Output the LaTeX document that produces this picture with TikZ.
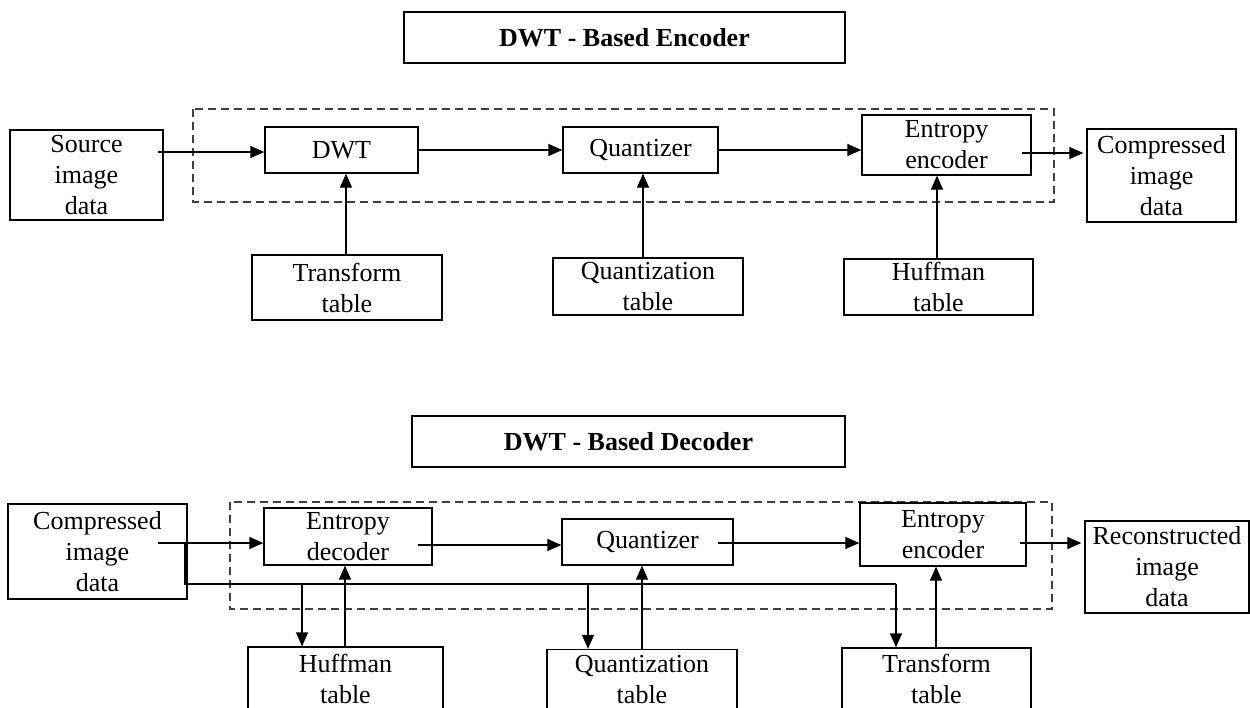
\documentclass[tikz,border=0pt]{standalone}
\usepackage{fontspec}
\setmainfont{Liberation Serif}
\usetikzlibrary{arrows.meta,calc}
\begin{document}
\begin{tikzpicture}[x=1pt,y=-1pt,
  box/.style={draw,line width=1.3pt,inner sep=0pt,align=center,
    font=\fontsize{26}{31}\selectfont},
  ttl/.style={box,font=\fontsize{26}{31}\selectfont\bfseries},
  arr/.style={line width=1.3pt,-{Triangle[length=14pt,width=12pt]}},
  ln/.style={line width=1.3pt},
  grp/.style={draw=black!75,line width=1.3pt,dash pattern=on 8pt off 5pt}]
\clip (0,0) rectangle (1250,707);
\fill[white] (0,0) rectangle (1250,707);
% ---------------- Encoder ----------------
\node[ttl,minimum width=441,minimum height=51] (tenc) at (624.5,37.5) {DWT - Based Encoder};
\draw[grp] (193,109) rectangle (1054,202);
\node[box,minimum width=153,minimum height=90] (src) at (86.5,175) {Source\\image\\data};
\node[box,minimum width=153,minimum height=46] (dwt) at (341.5,150) {DWT};
\node[box,minimum width=155,minimum height=46] (quant) at (640.5,150) {Quantizer};
\node[box,minimum width=169,minimum height=60] (ent) at (946.5,145) {Entropy\\encoder};
\node[box,minimum width=149,minimum height=93] (cmp) at (1161.5,175.5) {Compressed\\image\\data};
\node[box,minimum width=190,minimum height=65] (tt) at (347,287.5) {Transform\\table};
\node[box,minimum width=190,minimum height=57] (qt) at (648,286.5) {Quantization\\table};
\node[box,minimum width=189,minimum height=56] (ht) at (938.5,287) {Huffman\\table};
\coordinate (s0) at ($(src.east |- dwt.west)+(-6,2)$);
\draw[arr] (s0) -- (s0 -| dwt.west);
\draw[arr] (dwt.east) -- (quant.west);
\draw[arr] (quant.east) -- (quant.east -| ent.west);
\coordinate (e0) at ($(ent.east)+(-10,8)$);
\draw[arr] (e0) -- ($(e0 -| cmp.west)+(-3,0)$);
\coordinate (t0) at ($(tt.north)+(-1,0)$);
\draw[arr] (t0) -- (t0 |- dwt.south);
\coordinate (q0) at ($(qt.north)+(-5,0)$);
\draw[arr] (q0) -- (q0 |- quant.south);
\coordinate (h0) at ($(ht.north)+(-1.5,0)$);
\draw[arr] (h0) -- (h0 |- ent.south);
% ---------------- Decoder ----------------
\node[ttl,minimum width=433,minimum height=51] (tdec) at (628.5,441.5) {DWT - Based Decoder};
\draw[grp] (230,502) rectangle (1052,609);
\node[box,minimum width=179,minimum height=95] (cmp2) at (97.5,551.5) {Compressed\\image\\data};
\node[box,minimum width=168,minimum height=57] (edec) at (348,536.5) {Entropy\\decoder};
\node[box,minimum width=171,minimum height=46] (quant2) at (647.5,542) {Quantizer};
\node[box,minimum width=166,minimum height=63] (eenc2) at (943,534.5) {Entropy\\encoder};
\node[box,minimum width=164,minimum height=92] (rec) at (1167,567) {Reconstructed\\image\\data};
\node[box,minimum width=195,minimum height=63] (ht2) at (345.5,678.5) {Huffman\\table};
\node[box,minimum width=190,minimum height=60] (qt2) at (642,679.5) {Quantization\\table};
\node[box,minimum width=189,minimum height=62] (tt2) at (936.5,679) {Transform\\table};
\coordinate (c0) at ($(cmp2.east)+(-30,-8.5)$);
\draw[arr] (c0) -- (c0 -| edec.west);
\coordinate (d0) at ($(edec.east)+(-15,8.5)$);
\draw[arr] (d0) -- (d0 -| quant2.west);
\coordinate (u0) at ($(quant2.east)+(-16,1)$);
\draw[arr] (u0) -- (u0 -| eenc2.west);
\coordinate (r0) at ($(eenc2.east)+(-7,8.5)$);
\draw[arr] (r0) -- ($(r0 -| rec.west)+(-3,0)$);
\coordinate (j0) at (185,543);
\coordinate (bus) at (185,584);
\coordinate (b1) at (302,584);
\coordinate (b2) at (588,584);
\coordinate (b3) at (896,584);
\draw[ln] (j0) -- (bus) -- (b3);
\draw[arr] (b3) -- (b3 |- tt2.north);
\draw[arr] (b1) -- (b1 |- ht2.north);
\draw[arr] (b2) -- (b2 |- qt2.north);
\coordinate (h2) at ($(ht2.north)+(-0.5,0)$);
\draw[arr] (h2) -- (h2 |- edec.south);
\draw[arr] (qt2.north) -- (qt2.north |- quant2.south);
\coordinate (t2) at ($(tt2.north)+(-0.5,0)$);
\draw[arr] (t2) -- (t2 |- eenc2.south);
\end{tikzpicture}
\end{document}
